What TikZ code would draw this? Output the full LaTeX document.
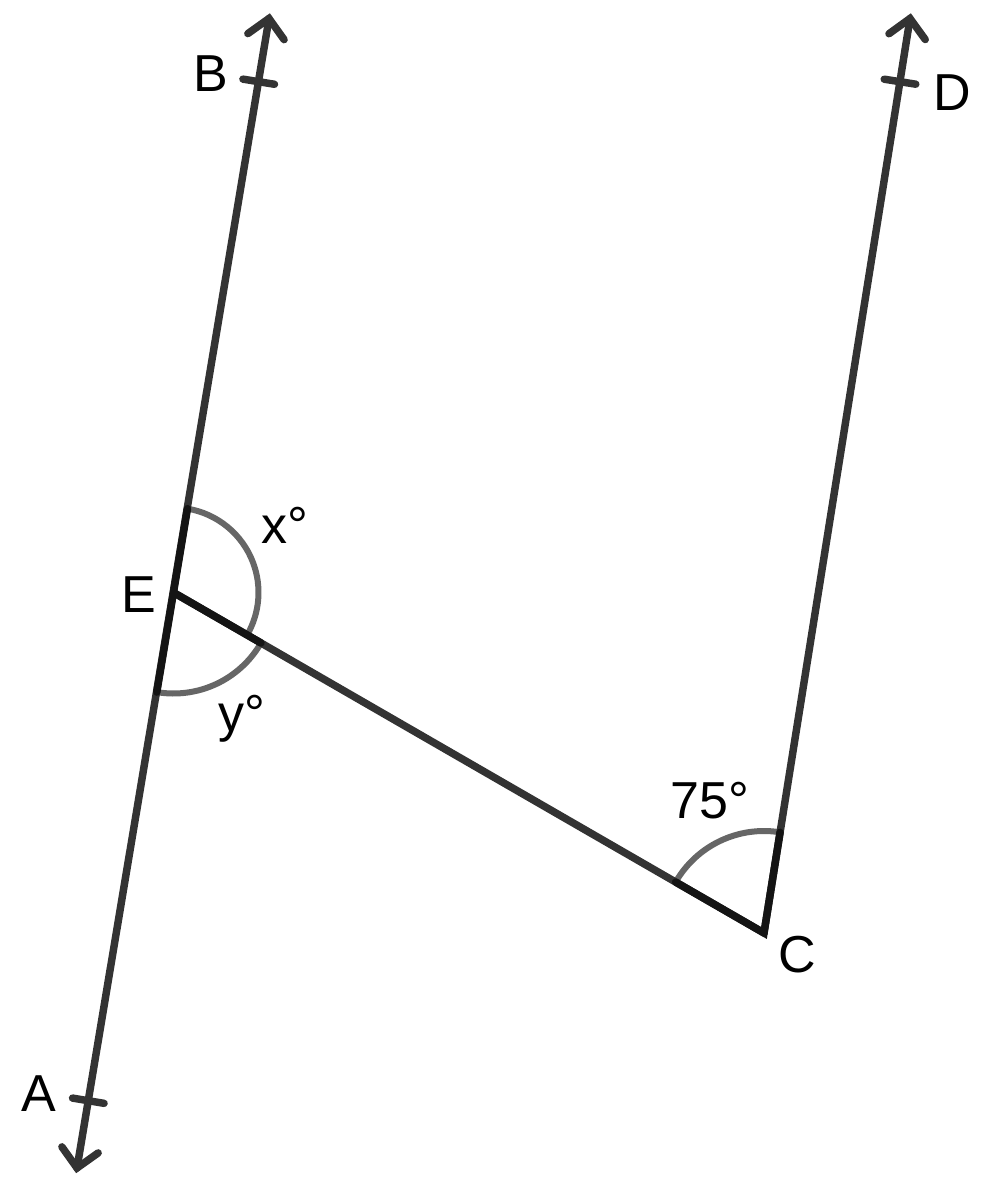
\documentclass[tikz,border=0pt]{standalone}
\usepackage{fontspec}
\setmainfont{Liberation Sans}
\usetikzlibrary{calc}
\begin{document}
\begin{tikzpicture}[x=0.75pt,y=-0.75pt,
  ln/.style={draw=black!80, line width=5.6pt, line cap=round},
  ray/.style={draw=black!92, line width=5.6pt, line cap=round},
  angarc/.style={draw=black!60, line width=4.5pt},
  lab/.style={anchor=base west, inner sep=0pt, font=\fontsize{39}{47}\selectfont}]
\fill[white] (0,0) rectangle (989,1188);
\useasboundingbox (0,0) rectangle (989,1188);
% points
\coordinate (T1) at (269,18.5);
\coordinate (T2) at (77,1168);
\coordinate (E) at (173.5,592.5);
\coordinate (C) at (764,933);
\coordinate (T3) at (910,18.5);
\coordinate (PB) at (258.7,81.7);
\coordinate (PA) at (88.3,1100.7);
\coordinate (PD) at (900,81.7);
% angle arcs
\draw[angarc] (E) ++(-80.5:85) arc[start angle=-80.5, end angle=30.03, radius=85];
\draw[angarc] (E) ++(30.03:101) arc[start angle=30.03, end angle=99.5, radius=101];
\draw[angarc] (C) ++(-149.97:102) arc[start angle=-149.97, end angle=-80.93, radius=102];
% lines
\draw[ln] (T1) -- (T2);
\draw[ln] (E) -- (C);
\draw[ln] (C) -- (T3);
% arrowheads
\draw[ln] ($(T1)!19.5pt!45:(T2)$) -- (T1) -- ($(T1)!19.5pt!-45:(T2)$);
\draw[ln] ($(T2)!19.5pt!45:(T1)$) -- (T2) -- ($(T2)!19.5pt!-45:(T1)$);
\draw[ln] ($(T3)!19.5pt!45:(C)$) -- (T3) -- ($(T3)!19.5pt!-45:(C)$);
% ticks
\draw[ln] ($(PB)!12pt!90:(T1)$) -- ($(PB)!12pt!-90:(T1)$);
\draw[ln] ($(PA)!12pt!90:(T1)$) -- ($(PA)!12pt!-90:(T1)$);
\draw[ln] ($(PD)!12pt!90:(T3)$) -- ($(PD)!12pt!-90:(T3)$);
% dark rays of the angle marks
\draw[ray] ($(E)!63.75pt!(T1)$) -- (E) -- ($(E)!75.75pt!(T2)$);
\draw[ray] (E) -- ($(E)!75.75pt!(C)$);
\draw[ray] ($(C)!76.5pt!(E)$) -- (C) -- ($(C)!76.5pt!(T3)$);
% labels
\node[lab] (lB) at (193,92) {B};
\node[lab] (lD) at (933,110) {D};
\node[lab] (lE) at (121,612) {E};
\node[lab] (lx) at (261,543) {x°};
\node[lab] (ly) at (218,731) {y°};
\node[lab] (l75) at (670,818) {75°};
\node[lab] (lC) at (778,972) {C};
\node[lab] (lA) at (21,1111) {A};
\end{tikzpicture}
\end{document}
